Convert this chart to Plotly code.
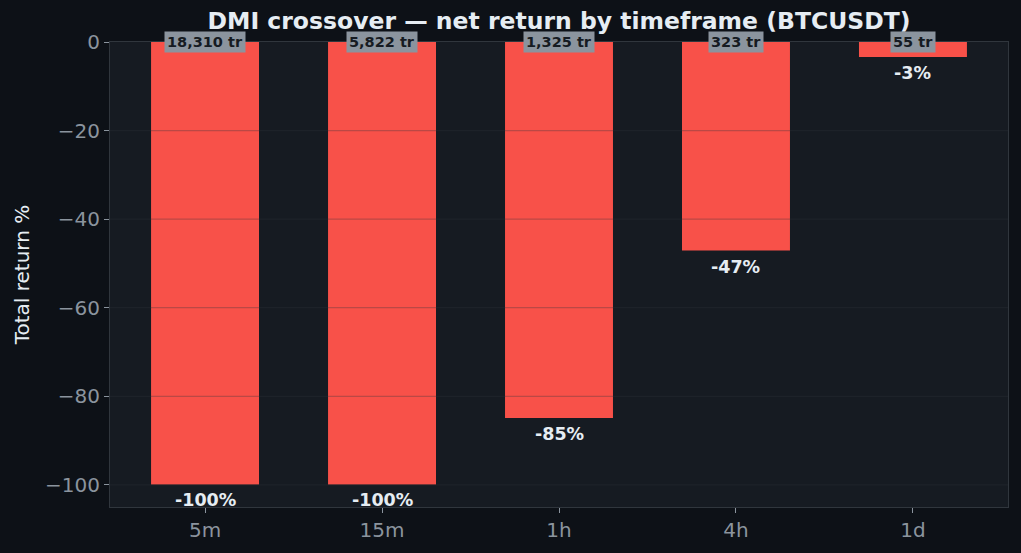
import plotly.graph_objects as go

# ============================================================
# Data
# ============================================================

timeframes = ["5m", "15m", "1h", "4h", "1d"]
net_return_pct = [-99.9, -99.9, -84.9, -47.1, -3.4]
trade_counts = [18310, 5822, 1325, 323, 55]
grid_ticks = [0, -20, -40, -60, -80, -100]

# ============================================================
# Style
# ============================================================

PAPER_BG = "#0d1117"
PLOT_BG = "#161b22"
BAR_RED = "#f85149"
SPINE = "#30363d"
TICK_GREY = "#8b949e"
TEXT_LIGHT = "#e6edf3"
FONT = "DejaVu Sans"

fig = go.Figure()

fig.add_trace(
    go.Bar(
        x=timeframes,
        y=net_return_pct,
        width=0.61,
        marker=dict(color=BAR_RED, line_width=0),
        hoverinfo="skip",
    )
)

# grid sits on top of the bars in the reference
for v in grid_ticks[1:]:
    fig.add_hline(y=v, line_color="rgba(48,54,61,0.3)", line_width=1.2, layer="above")

# value labels below each bar end
for tf, r in zip(timeframes, net_return_pct):
    fig.add_annotation(
        x=tf,
        y=r,
        text=f"<b>{r:.0f}%</b>",
        showarrow=False,
        yanchor="top",
        yshift=-4,
        font=dict(family=FONT, size=17.5, color=TEXT_LIGHT),
    )

# trade counts boxed at zero line
for tf, n in zip(timeframes, trade_counts):
    fig.add_annotation(
        x=tf,
        y=0,
        text=f"<b>{n:,} tr</b>",
        showarrow=False,
        yanchor="middle",
        bgcolor=TICK_GREY,
        borderpad=2,
        font=dict(family=FONT, size=14.5, color="#161b22"),
    )

fig.update_layout(
    width=1021,
    height=553,
    paper_bgcolor=PAPER_BG,
    plot_bgcolor=PLOT_BG,
    font=dict(family=FONT, color=TICK_GREY, size=20),
    showlegend=False,
    margin=dict(l=110, r=13, t=42, b=46),
    title=dict(
        text="<b>DMI crossover — net return by timeframe (BTCUSDT)</b>",
        x=0.5475,
        xanchor="center",
        y=0.962,
        yanchor="middle",
        font=dict(family=FONT, size=23.5, color=TEXT_LIGHT),
    ),
)

fig.update_xaxes(
    range=[-0.537, 4.537],
    showline=True,
    linecolor=SPINE,
    mirror=True,
    ticks="outside",
    ticklen=5,
    tickcolor=TICK_GREY,
    showgrid=False,
    zeroline=False,
    tickfont=dict(family=FONT, size=20, color=TICK_GREY),
)

fig.update_yaxes(
    range=[-105, 0],
    tickvals=grid_ticks,
    showline=True,
    linecolor=SPINE,
    mirror=True,
    ticks="outside",
    ticklen=5,
    tickcolor=TICK_GREY,
    showgrid=False,
    zeroline=False,
    tickfont=dict(family=FONT, size=20, color=TICK_GREY),
    title=dict(
        text="Total return %",
        standoff=10,
        font=dict(family=FONT, size=20, color=TEXT_LIGHT),
    ),
)

fig.write_html(
    "out.html",
    config={"displayModeBar": False},
    post_script="document.body.style.margin='0';",
)
